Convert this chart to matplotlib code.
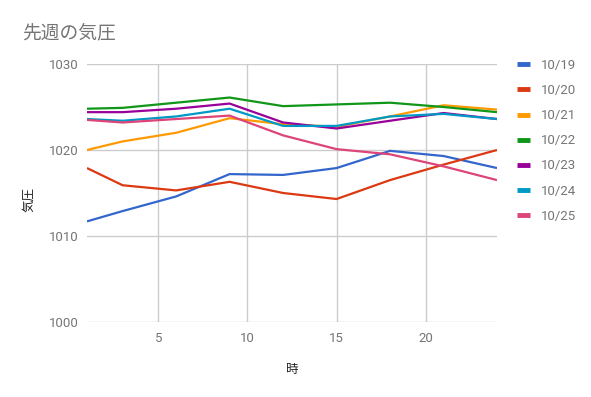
import numpy as np
import matplotlib
matplotlib.use("Agg")
import matplotlib.pyplot as plt

plt.rcParams['font.family'] = ['Roboto', 'Noto Sans CJK JP', 'DejaVu Sans']

# 時刻
hours = [1, 3, 6, 9, 12, 15, 18, 21, 24]
days = ["10/19", "10/20", "10/21", "10/22", "10/23", "10/24", "10/25"]

p_1019 = [1011.7, 1012.9, 1014.6, 1017.2, 1017.1, 1017.9, 1019.9, 1019.3, 1017.9]
p_1020 = [1017.9, 1015.9, 1015.3, 1016.3, 1015.0, 1014.3, 1016.5, 1018.3, 1020.0]
p_1021 = [1020.0, 1021.0, 1022.0, 1023.7, 1023.0, 1022.7, 1023.9, 1025.2, 1024.7]
p_1022 = [1024.8, 1024.9, 1025.5, 1026.1, 1025.1, 1025.3, 1025.5, 1025.0, 1024.4]
p_1023 = [1024.4, 1024.4, 1024.8, 1025.4, 1023.2, 1022.5, 1023.4, 1024.3, 1023.6]
p_1024 = [1023.6, 1023.4, 1023.9, 1024.8, 1022.8, 1022.8, 1023.9, 1024.2, 1023.6]
p_1025 = [1023.5, 1023.2, 1023.6, 1024.0, 1021.7, 1020.1, 1019.5, 1018.1, 1016.5]

series = [p_1019, p_1020, p_1021, p_1022, p_1023, p_1024, p_1025]
colors = ['#3366cc', '#dc3912', '#ff9900', '#109618', '#990099', '#0099c6', '#dd4477']

fig = plt.figure(figsize=(5.91, 3.97), dpi=100)
ax = fig.add_axes([87/591, 75/397, 410/591, 258/397])

for vals, c, lab in zip(series, colors, days):
    ax.plot(hours, vals, color=c, lw=1.6, label=lab, solid_capstyle='butt')

ax.set_xlim(1, 24)
ax.set_ylim(1000, 1030)
ax.set_xticks([5, 10, 15, 20])
ax.set_yticks([1000, 1010, 1020, 1030])
ax.grid(True, color='#cccccc', lw=1)
ax.set_axisbelow(True)
for s in ax.spines.values():
    s.set_visible(False)
ax.tick_params(length=0, colors='#757575', labelsize=9.5)
ax.tick_params(axis='y', pad=6)
ax.tick_params(axis='x', pad=7)

ax.set_xlabel('時', fontsize=9, color='#222222')
ax.set_ylabel('気圧', fontsize=9, color='#222222')
ax.xaxis.set_label_coords((292 - 87) / 410, (322 - 370) / 258)
ax.yaxis.set_label_coords((29 - 87) / 410, (322 - 200) / 258)
ax.xaxis.label.set_va('center')
ax.yaxis.label.set_va('center')

fig.text(22/591, 1 - 33/397, '先週の気圧', fontsize=13.5, color='#757575',
         va='center', ha='left')

leg = fig.legend(loc='upper left', bbox_to_anchor=(505/591, 1 - 47/397),
                 frameon=False, handlelength=1.0, handletextpad=0.8,
                 labelspacing=0.92, fontsize=9.5)
for t in leg.get_texts():
    t.set_color('#757575')
for h in leg.get_lines():
    h.set_linewidth(3.5)

fig.savefig('out.png', dpi=100)
